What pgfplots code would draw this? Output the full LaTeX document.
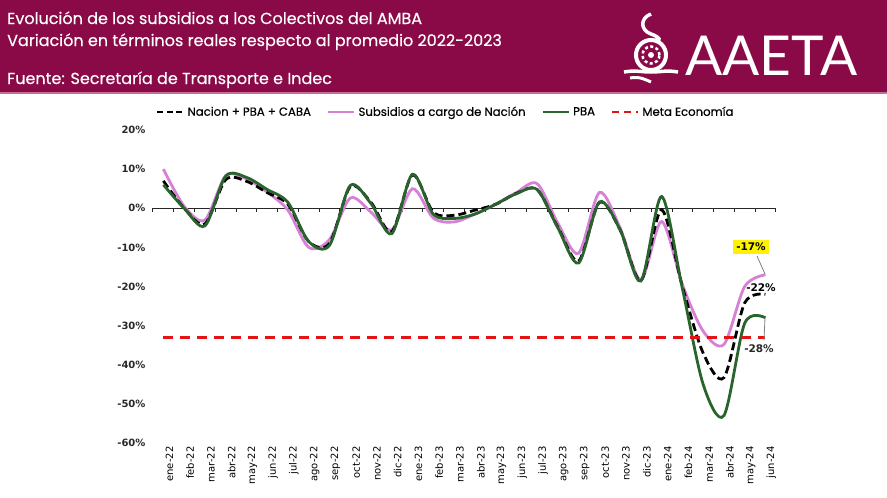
\documentclass[border=0pt]{standalone}
\usepackage{pgfplots}
\pgfplotsset{compat=1.18}
\usepackage{fontspec}
\setmainfont{DejaVu Sans}
\newfontfamily\titlefont{Poppins}[FakeBold=0.4]
\newfontfamily\legfont{Poppins}[FakeBold=0.5]
\newfontfamily\logofont{Lato}
\definecolor{hdr}{RGB}{138,10,72}
\definecolor{hdrline}{RGB}{200,110,150}
\definecolor{pinkc}{RGB}{214,128,214}
\definecolor{greenc}{RGB}{40,100,44}
\definecolor{redc}{RGB}{226,20,20}
\definecolor{labgrey}{RGB}{40,40,40}

\pgfplotstableread{
i total nacion pba
0 7 10 6
1 0 0.5 0
2 -4 -3 -4.5
3 7.3 8.3 8.2
4 6.9 7.5 7.9
5 4 4.1 4.8
6 1 -0.5 1.5
7 -8.5 -10 -8.5
8 -9 -8 -9.5
9 5.5 2.6 5.8
10 1.5 -1 1.2
11 -6 -5.5 -6.5
12 8.5 5 8.7
13 -1 -2.5 -1.5
14 -1.8 -3.5 -2.6
15 -0.5 -1.5 -1.5
16 1 1 1
17 3.8 4 3.7
18 4.8 6.3 4.8
19 -4.8 -3.8 -5
20 -13.5 -11.5 -14
21 1.5 4 1.6
22 -5.5 -5 -5.5
23 -18.5 -18.3 -18.6
24 -0.4 -3.4 3
25 -20 -19.5 -20.5
26 -37 -31.4 -45
27 -43.3 -34.8 -53
28 -24.2 -20 -29.4
29 -22 -17 -28
}\datatable

\begin{document}
\begin{tikzpicture}[x=1pt,y=1pt]
\path[use as bounding box] (0,0) rectangle (887,-498);
\fill[hdr] (0,0) rectangle (887,-92);
\fill[hdrline] (0,-92) rectangle (887,-94);
\node[anchor=base west, text=white, inner sep=0, font=\titlefont\fontsize{16}{18}\selectfont] at (7,-24) {Evolución de los subsidios a los Colectivos del AMBA};
\node[anchor=base west, text=white, inner sep=0, font=\titlefont\fontsize{16}{18}\selectfont] at (7,-46) {Variación en términos reales respecto al promedio 2022-2023};
\node[anchor=base west, text=white, inner sep=0, font=\titlefont\fontsize{16}{18}\selectfont] at (7,-84) {Fuente: Secretaría de Transporte e Indec};
% logo
\begin{scope}[white]
\draw[line width=4] (651,-55) circle (15);
\draw[line width=2.5, dash pattern=on 3 off 2.5] (651,-55) circle (8.5);
\fill (651,-55) circle (3);
\draw[line width=3.5] (651,-14) .. controls (640,-18) and (640,-30) .. (651,-34) .. controls (660,-37) and (662,-42) .. (655,-40);
\draw[line width=3.5] (624,-72) .. controls (636,-70) and (640,-72) .. (651,-72) .. controls (662,-72) and (666,-70) .. (678,-72);
\draw[line width=3] (630,-78) .. controls (640,-76) and (646,-80) .. (651,-82);
\end{scope}
\node[anchor=base west, text=white, inner sep=0, font=\logofont\fontsize{55}{60}\selectfont] at (685,-75) {AAETA};

\begin{axis}[
  at={(153pt,-443pt)}, anchor=south west,
  scale only axis, width=622.8pt, height=313pt,
  xmin=-0.5, xmax=29.5, ymin=-60, ymax=20,
  clip=false,
  axis line style={draw=none},
  tick style={draw=none},
  ytick={-60,-50,...,20},
  yticklabels={-60\%,-50\%,-40\%,-30\%,-20\%,-10\%,0\%,10\%,20\%},
  yticklabel style={font=\fontsize{10}{12}\selectfont\bfseries, text=labgrey, xshift=-4pt},
  xtick={0,...,29},
  xticklabels={ene-22,feb-22,mar-22,abr-22,may-22,jun-22,jul-22,ago-22,sep-22,oct-22,nov-22,dic-22,ene-23,feb-23,mar-23,abr-23,may-23,jun-23,jul-23,ago-23,sep-23,oct-23,nov-23,dic-23,ene-24,feb-24,mar-24,abr-24,may-24,jun-24},
  xticklabel style={rotate=90, anchor=east, font=\fontsize{10}{12}\selectfont, text=black, yshift=-6pt},
  legend columns=4,
  legend style={draw=none, fill=none, at={(axis description cs:0.47,1.0575)}, anchor=center,
    font=\legfont\fontsize{11.7}{13}\selectfont, inner sep=0pt,
    /tikz/every even column/.append style={column sep=14pt},
    /tikz/every odd column/.append style={column sep=1pt}},
  legend image code/.code={\draw[#1] (0pt,0pt) -- (26pt,0pt);},
]
\addlegendimage{black, line width=2.6pt, dash pattern=on 6pt off 3.5pt}
\addlegendentry{Nacion + PBA + CABA}
\addlegendimage{pinkc, line width=2.6pt}
\addlegendentry{Subsidios a cargo de Nación}
\addlegendimage{greenc, line width=2.6pt}
\addlegendentry{PBA}
\addlegendimage{redc, line width=2.4pt, dash pattern=on 7pt off 5pt}
\addlegendentry{Meta Economía}

\draw[black!85, line width=1.3pt] (axis cs:-0.5,0) -- (axis cs:29.5,0);
\pgfplotsinvokeforeach{-0.5,0.5,...,29.5}{\draw[black!85, line width=1pt] (axis cs:#1,0) -- ++(0pt,-4pt);}

\addplot[pinkc, line width=2.8pt, smooth, tension=0.5, forget plot] table[x=i, y=nacion] {\datatable};
\addplot[black, line width=2.8pt, dash pattern=on 8pt off 4pt, smooth, tension=0.5, forget plot] table[x=i, y=total] {\datatable};
\addplot[greenc, line width=2.8pt, smooth, tension=0.5, forget plot] table[x=i, y=pba] {\datatable};
\addplot[redc, line width=2.4pt, dash pattern=on 10pt off 7pt, forget plot] coordinates {(0,-33) (29,-33)};
\end{axis}

% data labels
\draw[gray, line width=0.8pt] (757,-256) -- (765,-274);
\node[fill=yellow, inner xsep=3pt, inner ysep=3pt, font=\fontsize{10.5}{12}\selectfont\bfseries, text=black] at (751,-247) {-17\%};
\node[font=\fontsize{10.5}{12}\selectfont\bfseries, text=black] at (761,-288) {-22\%};
\draw[gray, line width=0.8pt] (765,-318) -- (764,-340);
\node[font=\fontsize{10.5}{12}\selectfont\bfseries, text=labgrey] at (759,-349) {-28\%};
\end{tikzpicture}
\end{document}
